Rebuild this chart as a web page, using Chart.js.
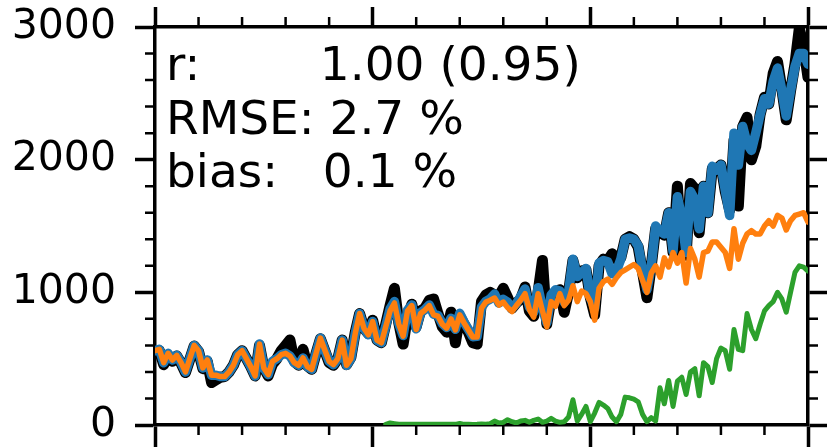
<!DOCTYPE html>
<html lang="en">
<head>
<meta charset="UTF-8">
<title>Series comparison</title>
<style>
  body { margin: 0; background: #fff; }
  canvas { display: block; }
</style>
</head>
<body>
<canvas id="myCanvas" width="827" height="447"></canvas>
<script src="https://cdn.jsdelivr.net/npm/chart.js@4.4.0/dist/chart.umd.min.js"></script>
<script>
// one value per year
const firstYear = 1870;
const lastYear = 2020;

const observed = [
  550, 560, 455, 525, 480, 520, 465, 395, 495, 595,
  555, 425, 480, 320, 340, 360, 365, 400, 450, 530,
  560, 500, 440, 370, 600, 430, 370, 460, 500, 560,
  600, 640, 480, 450, 570, 445, 420, 540, 650, 560,
  470, 450, 500, 640, 455, 510, 700, 840, 730, 690,
  790, 640, 620, 760, 900, 1030, 770, 610, 820, 910,
  740, 860, 880, 940, 950, 840, 740, 700, 850, 620,
  820, 760, 700, 620, 610, 930, 980, 1000, 980, 970,
  1030, 960, 880, 920, 950, 1040, 860, 820, 1000, 1240,
  760, 960, 1000, 1020, 850, 1000, 1240, 1110, 1160, 1170,
  960, 830, 1200, 1250, 1240, 1290, 1250, 1260, 1400, 1420,
  1400, 1340, 1150, 960, 1200, 1480, 1460, 1430, 1600, 1300,
  1800, 1300, 1280, 1820, 1780, 1450, 1800, 1600, 1930, 1930,
  1960, 1760, 1620, 2150, 1650, 2250, 2320, 2000, 2100, 2340,
  2470, 2420, 2650, 2740, 2530, 2300, 2520, 2720, 2990, 2850, 2620
];

const modelled = [
  560, 570, 470, 540, 490, 525, 470, 400, 500, 600,
  560, 430, 490, 375, 375, 365, 365, 400, 450, 530,
  560, 500, 440, 370, 610, 430, 380, 480, 500, 530,
  540, 520, 470, 450, 505, 440, 420, 540, 655, 565,
  480, 455, 500, 640, 450, 500, 690, 840, 730, 680,
  780, 640, 620, 745, 875, 930, 765, 675, 865, 905,
  725, 845, 870, 905, 835, 825, 765, 735, 805, 721,
  842, 775, 721, 666, 668, 888, 932, 950, 987, 919,
  947, 925, 880, 915, 970, 1025, 890, 849, 1035, 880,
  770, 980, 1020, 1010, 925, 1000, 1250, 1120, 1150, 1180,
  960, 880, 1220, 1240, 1230, 1140, 1160, 1250, 1400, 1410,
  1400, 1350, 1170, 1020, 1200, 1500, 1460, 1440, 1600, 1310,
  1720, 1560, 1300, 1760, 1700, 1480, 1800, 1600, 1950, 1920,
  1960, 1770, 1580, 2200, 1960, 2250, 2120, 2070, 2200, 2340,
  2460, 2420, 2590, 2690, 2520, 2330, 2520, 2700, 2800, 2800, 2720
];

const baseline = [
  560, 570, 470, 540, 490, 525, 470, 400, 500, 600,
  560, 430, 490, 375, 375, 365, 365, 400, 450, 530,
  560, 500, 440, 370, 610, 430, 380, 480, 500, 530,
  540, 520, 470, 450, 505, 440, 420, 540, 655, 565,
  480, 455, 500, 640, 450, 500, 690, 840, 730, 680,
  780, 640, 620, 740, 860, 920, 760, 670, 860, 900,
  720, 840, 865, 900, 830, 820, 760, 730, 800, 716,
  830, 770, 716, 663, 663, 880, 927, 940, 957, 904,
  927, 885, 855, 900, 940, 990, 870, 814, 990, 860,
  740, 930, 895, 990, 900, 940, 1050, 930, 1010, 990,
  930, 790, 1030, 1080, 1100, 1060, 1110, 1150, 1170, 1190,
  1210, 1180, 1090, 1000, 1146, 1200, 1115, 1260, 1191, 1300,
  1220, 1300, 1070, 1330, 1250, 1115, 1300, 1310, 1380, 1380,
  1340, 1300, 1180, 1480, 1250, 1370, 1440, 1465, 1440, 1440,
  1500, 1540, 1500, 1580, 1560, 1470, 1540, 1580, 1590, 1600, 1530
];

const added = [
  null, null, null, null, null, null, null, null, null, null,
  null, null, null, null, null, null, null, null, null, null,
  null, null, null, null, null, null, null, null, null, null,
  null, null, null, null, null, null, null, null, null, null,
  null, null, null, null, null, null, null, null, null, null,
  null, null, null, 5, 15, 10, 5, 5, 5, 5,
  5, 5, 5, 5, 5, 5, 5, 5, 5, 5,
  12, 5, 5, 3, 5, 8, 5, 10, 30, 15,
  20, 40, 25, 15, 30, 35, 20, 35, 45, 20,
  30, 50, 30, 20, 25, 60, 190, 30, 80, 140,
  25, 90, 170, 150, 125, 60, 25, 80, 210, 205,
  195, 175, 80, 25, 55, 30, 280, 160, 335, 140,
  330, 360, 230, 400, 425, 220, 470, 440, 320, 500,
  580, 560, 420, 720, 570, 560, 840, 720, 650, 760,
  860, 900, 930, 1000, 950, 850, 1000, 1150, 1200, 1190, 1160
];

const yMax = 3000;
const yMajorStep = 1000;
const yMinorStep = 200;
const xMajorStep = 50;
const xMinorStep = 10;

const statsLines = ['r:        1.00 (0.95)', 'RMSE: 2.7 %', 'bias:   0.1 %'];

const years = [];
for (let y = firstYear; y <= lastYear; y++) years.push(y);
const pts = arr => arr.map((v, i) => ({ x: years[i], y: v }));

function line(data, color, width) {
  return {
    data: pts(data),
    borderColor: color,
    borderWidth: width,
    pointRadius: 0,
    tension: 0,
    borderJoinStyle: 'round',
    borderCapStyle: 'round',
    spanGaps: false
  };
}

const axisBorder = { display: true, width: 3.5, color: '#000' };
function tickGrid(len) {
  return { display: true, drawOnChartArea: false, drawTicks: true, tickLength: len, tickWidth: 3.5, tickColor: '#000' };
}
const noLabels = () => '';
// keep the plot box fixed: no extra room for labels hanging over the ends
function fixSize(w, h) {
  return s => {
    if (w !== null) s.width = w;
    if (h !== null) s.height = h;
    s.paddingTop = 0; s.paddingBottom = 0;
    s.paddingLeft = 0; s.paddingRight = 0;
  };
}

// short ticks between the labelled ones, on all four sides
const minorTicks = {
  id: 'minorTicks',
  afterDraw(chart) {
    const { ctx, chartArea: a, scales } = chart;
    ctx.save();
    ctx.strokeStyle = '#000';
    ctx.lineWidth = 2.5;
    ctx.beginPath();
    for (let v = yMinorStep; v < yMax; v += yMinorStep) {
      if (v % yMajorStep === 0) continue;
      const y = scales.y.getPixelForValue(v);
      ctx.moveTo(a.left - 10, y); ctx.lineTo(a.left, y);
      ctx.moveTo(a.right, y); ctx.lineTo(a.right + 10, y);
    }
    for (let yr = firstYear + xMinorStep; yr < lastYear; yr += xMinorStep) {
      if ((yr - firstYear) % xMajorStep === 0) continue;
      const x = scales.x.getPixelForValue(yr);
      ctx.moveTo(x, a.top - 10); ctx.lineTo(x, a.top);
      ctx.moveTo(x, a.bottom); ctx.lineTo(x, a.bottom + 10);
    }
    ctx.stroke();
    ctx.restore();
  }
};

// skill scores in the upper left corner
const statsBox = {
  id: 'statsBox',
  afterDatasetsDraw(chart) {
    const { ctx, chartArea: a } = chart;
    ctx.save();
    ctx.font = '47px "DejaVu Sans"';
    ctx.fillStyle = '#000';
    ctx.textAlign = 'left';
    ctx.textBaseline = 'alphabetic';
    statsLines.forEach((s, i) => ctx.fillText(s, a.left + 11, a.top + 53 + i * 53.5));
    ctx.restore();
  }
};

new Chart(document.getElementById('myCanvas'), {
  type: 'line',
  data: {
    datasets: [
      line(added, '#2ca02c', 5),
      line(baseline, '#ff7f0e', 5.5),
      line(modelled, '#1f77b4', 9.5),
      line(observed, '#000000', 11)
    ]
  },
  options: {
    responsive: false,
    animation: false,
    layout: { padding: 0 },
    plugins: { legend: { display: false }, tooltip: { enabled: false } },
    scales: {
      x: {
        type: 'linear', position: 'bottom', min: firstYear, max: lastYear,
        ticks: { stepSize: xMajorStep, callback: noLabels },
        grid: tickGrid(24), border: axisBorder,
        afterFit: fixSize(null, 22)
      },
      xTop: {
        type: 'linear', position: 'top', min: firstYear, max: lastYear,
        ticks: { stepSize: xMajorStep, callback: noLabels },
        grid: tickGrid(20), border: axisBorder,
        afterFit: fixSize(null, 27)
      },
      y: {
        position: 'left', min: 0, max: yMax,
        ticks: {
          stepSize: yMajorStep, color: '#000', padding: 19,
          font: { family: 'DejaVu Sans', size: 41 },
          callback: v => String(v)
        },
        grid: tickGrid(20), border: axisBorder,
        afterFit: fixSize(155, null)
      },
      yRight: {
        position: 'right', min: 0, max: yMax,
        ticks: { stepSize: yMajorStep, callback: noLabels },
        grid: tickGrid(20), border: axisBorder,
        afterFit: fixSize(19, null)
      }
    }
  },
  plugins: [minorTicks, statsBox]
});
</script>
</body>
</html>
